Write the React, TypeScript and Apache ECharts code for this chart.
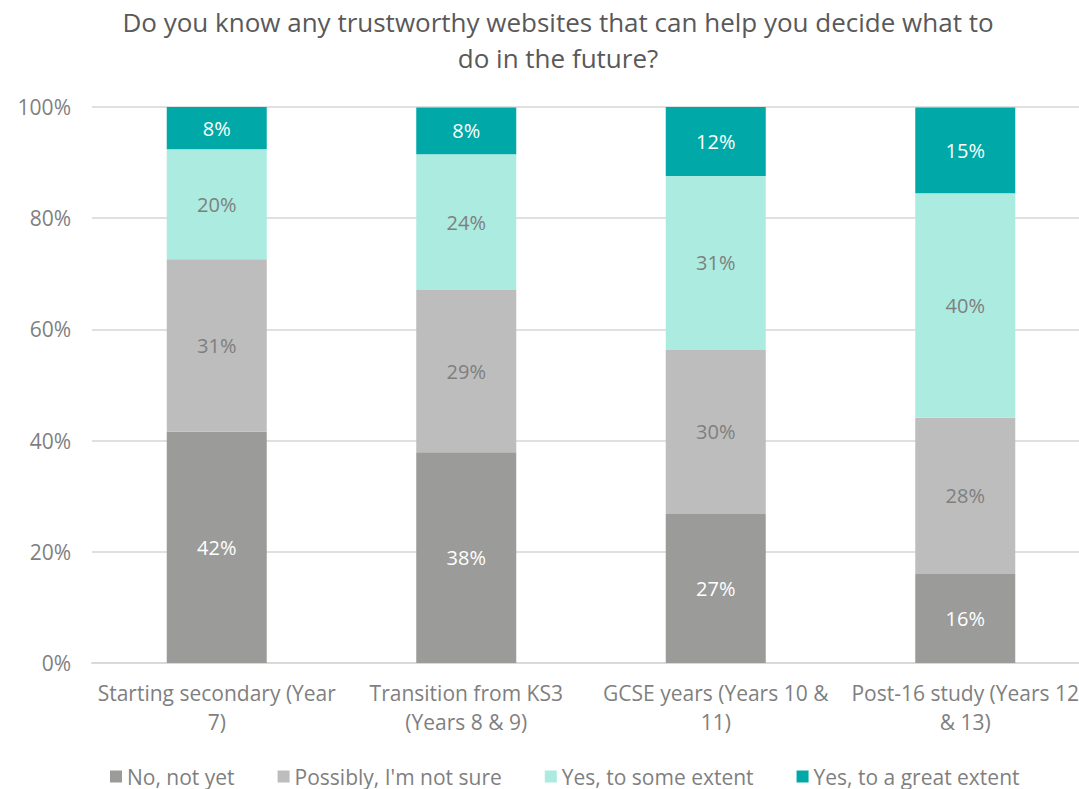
import React, { useEffect, useRef } from "react";
import * as echarts from "echarts";

const categories = [
  "Starting secondary (Year\n7)",
  "Transition from KS3\n(Years 8 & 9)",
  "GCSE years (Years 10 &\n11)",
  "Post-16 study (Years 12\n& 13)",
];
const seriesNames = ["No, not yet", "Possibly, I'm not sure", "Yes, to some extent", "Yes, to a great extent"];
const noNotYet = [41.6, 37.9, 26.8, 16.0];
const possibly = [31.0, 29.2, 29.5, 28.1];
const someExtent = [19.8, 24.4, 31.3, 40.4];
const greatExtent = [7.6, 8.4, 12.4, 15.4];
const colors = ["#9b9b9a", "#bdbdbd", "#acebdf", "#00a9a7"];
const labelColors = ["#ffffff", "#7f7f7f", "#7f7f7f", "#ffffff"];
const yTicks = [0, 20, 40, 60, 80, 100];

const FONT = "'Open Sans', 'Noto Sans', sans-serif";

export default function App() {
  const ref = useRef<HTMLDivElement>(null);
  useEffect(() => {
    if (!ref.current) return;
    const chart = echarts.init(ref.current, undefined, { renderer: "svg" });
    const data = [noNotYet, possibly, someExtent, greatExtent];
    chart.setOption({
      animation: false,
      title: {
        text: "Do you know any trustworthy websites that can help you decide what to\ndo in the future?",
        left: 558,
        textAlign: "center",
        top: 4,
        padding: 0,
        textStyle: {
          fontFamily: FONT,
          fontSize: 26,
          fontWeight: "normal",
          color: "#595959",
          lineHeight: 36,
        },
      },
      grid: { left: 92, width: 998, top: 107, bottom: 126, containLabel: false },
      legend: {
        top: 766,
        padding: 0,
        left: 110,
        itemWidth: 12,
        itemHeight: 12,
        itemGap: 43,
        icon: "rect",
        textStyle: { fontFamily: FONT, fontSize: 21, color: "#7f7f7f" },
        data: seriesNames,
      },
      xAxis: {
        type: "category",
        data: categories,
        axisLine: { show: true, lineStyle: { color: "#d9d9d9", width: 2 } },
        axisTick: { show: false },
        axisLabel: {
          fontFamily: FONT,
          fontSize: 21,
          color: "#7f7f7f",
          lineHeight: 29,
          margin: 15,
          interval: 0,
        },
      },
      yAxis: {
        type: "value",
        min: 0,
        max: 100,
        interval: 20,
        axisLine: { show: false },
        axisTick: { show: false },
        splitLine: { lineStyle: { color: "#e0e0e0", width: 2 } },
        axisLabel: {
          fontFamily: FONT,
          fontSize: 21,
          color: "#7f7f7f",
          margin: 21,
          formatter: (v: number) => (yTicks.includes(v) ? v + "%" : ""),
        },
      },
      series: seriesNames.map((name, i) => ({
        name,
        type: "bar",
        stack: "total",
        barWidth: 100,
        itemStyle: { color: colors[i] },
        label: {
          show: true,
          position: "inside",
          fontFamily: FONT,
          fontSize: 20,
          color: labelColors[i],
          formatter: (p: any) => Math.round(p.value) + "%",
        },
        data: data[i],
      })),
    });
    return () => chart.dispose();
  }, []);
  return (
    <div
      style={{
        position: "absolute",
        left: 0,
        top: 0,
        width: 1079,
        height: 789,
        overflow: "hidden",
      }}
    >
      <div ref={ref} style={{ width: 1110, height: 789 }} />
    </div>
  );
}
